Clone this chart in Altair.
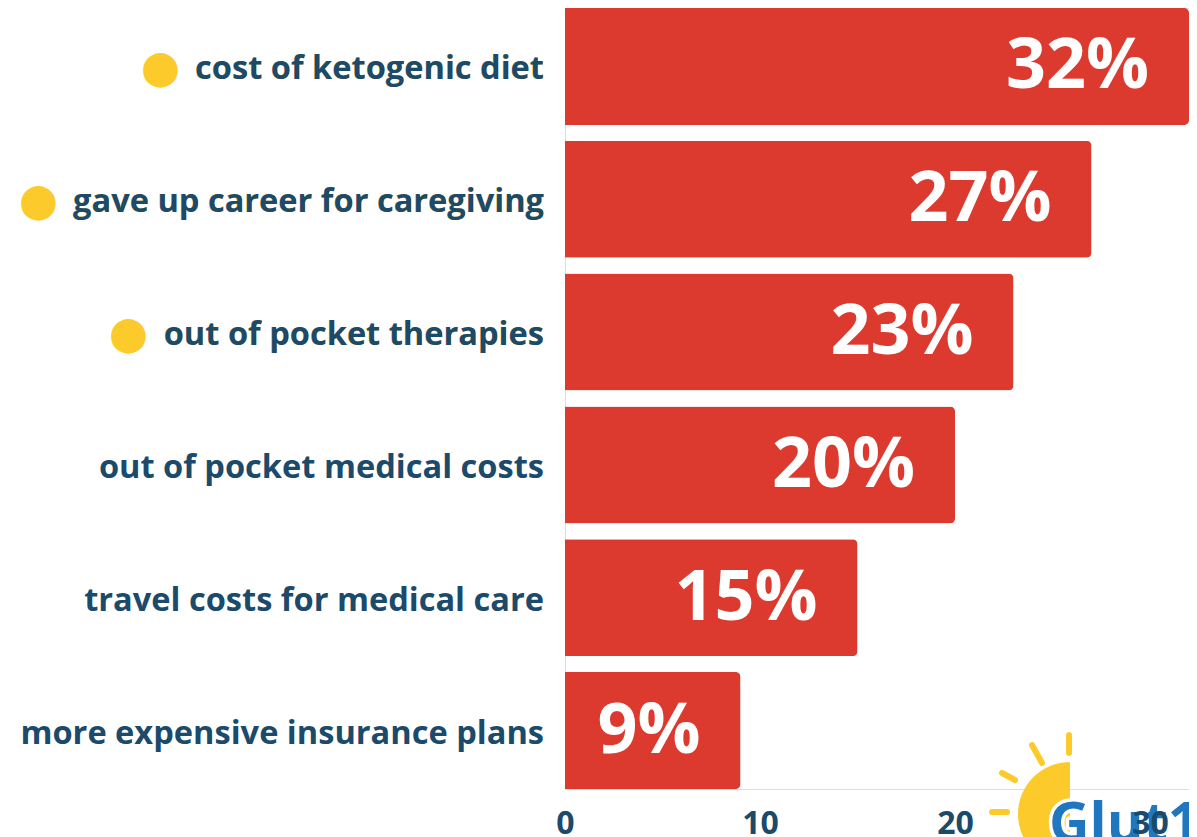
import altair as alt
import pandas as pd

categories = [
    "cost of ketogenic diet",
    "gave up career for caregiving",
    "out of pocket therapies",
    "out of pocket medical costs",
    "travel costs for medical care",
    "more expensive insurance plans",
]
values = [32, 27, 23, 20, 15, 9]
highlighted = [True, True, True, False, False, False]
tick_values = [0, 10, 20, 30]

df = pd.DataFrame({
    "category": categories,
    "value": values,
    "hl": highlighted,
})
df["pct"] = [f"{v}%" for v in values]
df["dotted"] = ["\u2B24\u2002" + c if h else "" for c, h in zip(categories, highlighted)]

RED = "#DD3A2F"
NAVY = "#1B4A6B"
YELLOW = "#FCCB2B"
BLUE = "#1F77C0"
FONT = "Open Sans"

y_enc = alt.Y(
    "category:N",
    sort=categories,
    scale=alt.Scale(paddingInner=0.119, paddingOuter=0),
    axis=None,
)

base = alt.Chart(df)

# logo (decoration), positions in plot pixels
one = pd.DataFrame({"k": [0]})
sun = alt.Chart(one).mark_arc(
    theta=3.14159, theta2=6.28318, radius=52, color=YELLOW
).encode(x=alt.value(505), y=alt.value(806))

rays = [
    (504, 727, 504, 745),
    (467, 737, 477, 755),
    (437, 765, 450, 772),
    (427, 804, 442, 804),
]
ray_layers = [
    alt.Chart(one).mark_rule(
        strokeWidth=6, strokeCap="round", color=YELLOW
    ).encode(
        x=alt.value(x1), x2=alt.value(x2),
        y=alt.value(y1), y2=alt.value(y2),
    )
    for (x1, y1, x2, y2) in rays
]

logo_df = pd.DataFrame({"t": ["Glut1"]})
logo_halo = alt.Chart(logo_df).mark_text(
    font=FONT, fontWeight="bold", fontSize=56, color="white",
    align="left", baseline="alphabetic", stroke="white", strokeWidth=7,
    strokeJoin="round",
).encode(text="t:N", x=alt.value(484), y=alt.value(834))
logo = alt.Chart(logo_df).mark_text(
    font=FONT, fontWeight="bold", fontSize=56, color=BLUE,
    align="left", baseline="alphabetic",
).encode(text="t:N", x=alt.value(484), y=alt.value(834))

bars = base.mark_bar(
    color=RED, cornerRadiusTopRight=5, cornerRadiusBottomRight=5
).encode(
    x=alt.X(
        "value:Q",
        scale=alt.Scale(domain=[0, 32], nice=False),
        axis=alt.Axis(
            values=tick_values, title=None, grid=False, domain=False,
            ticks=False, labelFont=FONT, labelFontWeight="bold",
            labelFontSize=32, labelColor=NAVY, labelPadding=19,
            labelBaseline="top", labelFlush=False, zindex=1,
        ),
    ),
    y=y_enc,
)

pct = base.mark_text(
    font=FONT, fontWeight="bold", fontSize=70, color="white",
    align="right", baseline="middle", dx=-40, dy=1,
).encode(x="value:Q", y=y_enc, text="pct:N")

dots = base.transform_filter("datum.hl").mark_text(
    font=FONT, fontWeight="bold", fontSize=32.6, color=YELLOW,
    align="right", baseline="middle", dx=-21, dy=3,
).encode(x=alt.value(0), y=y_enc, text="dotted:N")

labels = base.mark_text(
    font=FONT, fontWeight="bold", fontSize=32.6, color=NAVY,
    align="right", baseline="middle", dx=-21, dy=3,
).encode(x=alt.value(0), y=y_enc, text="category:N")

chart = alt.layer(
    sun, *ray_layers, logo_halo, logo, bars, pct, dots, labels
).properties(
    width=624,
    height=781,
    padding={"left": 557, "top": 0, "right": 0, "bottom": 48},
    autosize=alt.AutoSizeParams(type="none"),
).configure_view(stroke=None).configure(background="white")

chart.save("out.html", embed_options={"renderer": "svg", "actions": False})
